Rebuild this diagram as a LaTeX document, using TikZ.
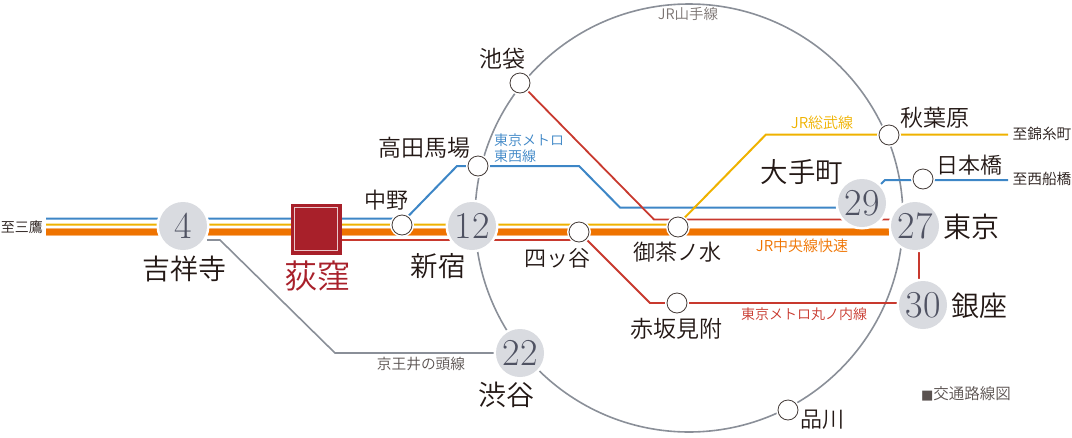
\documentclass[tikz,border=0pt]{standalone}
\usepackage{fontspec}
\newfontfamily\cjk{Noto Sans CJK JP}[UprightFont=* DemiLight]
\definecolor{lblue}{HTML}{3D86C6}
\definecolor{lyellow}{HTML}{EFB200}
\definecolor{lorange}{HTML}{EF7300}
\definecolor{lred}{HTML}{C8392E}
\definecolor{lgrey}{HTML}{8A8F98}
\definecolor{bigfill}{HTML}{D9DBE0}
\definecolor{numcol}{HTML}{4F5262}
\definecolor{ink}{HTML}{231815}
\definecolor{ogi}{HTML}{A8202A}
\tikzset{
  x=1pt,y=-1pt,
  halo/.style={circle,fill=white,draw=none,minimum size=53pt,inner sep=0pt},
  bigst/.style={circle,fill=bigfill,draw=none,minimum size=48pt,inner sep=0pt,text=numcol,font=\fontsize{38}{38}\selectfont},
  smallst/.style={circle,fill=white,draw=ink!85,line width=0.8pt,minimum size=20pt,inner sep=0pt},
  smallhalo/.style={circle,fill=white,draw=none,minimum size=24pt,inner sep=0pt},
  lab/.style={inner sep=0pt,text=ink,font=\cjk\fontsize{#1}{#1}\selectfont},
  lab/.default=23,
  sm/.style={inner sep=0pt,font=\cjk\fontsize{#1}{16}\selectfont},
  sm/.default=14
}
\begin{document}
\begin{tikzpicture}
\useasboundingbox (0,0) rectangle (1072,437);
% ring
\node[inner sep=0pt,minimum size=0pt] (ringc) at (689,218) {};
\draw[lgrey,line width=1.6pt] (ringc) circle[radius=214];
% free ends and bends
\coordinate (bw) at (46,218.5);
\coordinate (yw) at (46,224.5);
\coordinate (ow) at (46,232);
\coordinate (oe) at (889,232);
\coordinate (rs) at (341,240);
\coordinate (b1) at (406,218.5);
\coordinate (b2) at (457,166);
\coordinate (b3) at (579,166);
\coordinate (b4) at (620,207.5);
\coordinate (b5) at (860,207.5);
\coordinate (b6) at (881,184);
\coordinate (b7) at (885,180);
\coordinate (b8) at (1008,180);
\coordinate (y1) at (678,224.5);
\coordinate (y2) at (766,134.5);
\coordinate (y3) at (1008,134.5);
\coordinate (r1) at (587,240);
\coordinate (r2) at (650,303);
\coordinate (r5) at (905,303);
\coordinate (r3) at (654,219.5);
\coordinate (r4) at (892,219.5);
\coordinate (r6) at (919,240);
\coordinate (r7) at (919,290);
\coordinate (k1) at (207,240);
\coordinate (k2) at (220,240);
\coordinate (k3) at (335,353);
\coordinate (k4) at (510,353);
% station positions
\coordinate (pkichi) at (183,226);
\coordinate (pshinj) at (472,226);
\coordinate (pshibu) at (520,353);
\coordinate (potem) at (862,203);
\coordinate (ptokyo) at (915,226);
\coordinate (pginza) at (923,305);
\coordinate (pnaka) at (402,225);
\coordinate (ptaka) at (478,166);
\coordinate (pyotsu) at (579,232);
\coordinate (pocha) at (678,227);
\coordinate (paki) at (889,135);
\coordinate (pnihon) at (923,179);
\coordinate (pike) at (520,83);
\coordinate (pshina) at (788,410);
\coordinate (paka) at (677,303);
% connectors
\draw[lblue,line width=2pt] (bw) -- (b1) -- (b2) -- (b3) -- (b4) -- (b5);
\draw[lblue,line width=2pt] (b6) -- (b7) -- (b8);
\draw[lyellow,line width=2pt] (yw) -- (y1) -- (y2) -- (y3);
\draw[lorange!55!white,line width=8pt] (ow) -- (oe);
\draw[lorange,line width=6.4pt] (ow) -- (oe);
\draw[lred,line width=1.8pt] (rs) -- (r1) -- (r2) -- (paka) -- (r5);
\draw[lred,line width=1.8pt] (pike) -- (r3) -- (r4);
\draw[lred,line width=1.8pt] (r6) -- (r7);
\draw[lgrey,line width=1.6pt] (k1) -- (k2) -- (k3) -- (k4);
% halos
\foreach \p in {pkichi,pshinj,pshibu,potem,ptokyo,pginza}{\node[halo] at (\p) {};}
\foreach \p in {pnaka,ptaka,pyotsu,pocha,paki,pnihon,pike,pshina,paka}{\node[smallhalo] at (\p) {};}
% big stations
\node[bigst] (kichi) at (pkichi) {4};
\node[bigst] (shinj) at (pshinj) {12};
\node[bigst] (shibu) at (pshibu) {22};
\node[bigst] (otem) at (potem) {29};
\node[bigst] (tokyo) at (ptokyo) {27};
\node[bigst] (ginza) at (pginza) {30};
% small stations
\node[smallst] (naka) at (pnaka) {};
\node[smallst] (taka) at (ptaka) {};
\node[smallst] (yotsu) at (pyotsu) {};
\node[smallst] (ocha) at (pocha) {};
\node[smallst] (aki) at (paki) {};
\node[smallst] (nihon) at (pnihon) {};
\node[smallst] (ike) at (pike) {};
\node[smallst] (shina) at (pshina) {};
\node[smallst] (aka) at (paka) {};
% Ogikubo
\node[draw=ogi,fill=ogi,minimum size=50pt,inner sep=0pt,line width=0pt] (ogi) at (316,229) {};
\node[draw=white!75!ogi,line width=0.9pt,minimum size=42.5pt,inner sep=0pt] (ogiin) at (316,229) {};
% labels
\node[lab=28] (tkichi) at (184,269) {吉祥寺};
\node[lab=33,text=ogi] (togi) at (317,276) {荻窪};
\node[lab=23] (ttaka) at (424,148) {高田馬場};
\node[lab=22] (tnaka) at (386,200) {中野};
\node[lab=27.5] (tshinj) at (438,266) {新宿};
\node[lab=22] (tyotsu) at (557,258) {四ッ谷};
\node[lab=22] (tocha) at (677,252) {御茶ノ水};
\node[lab=27.5] (totem) at (802,172) {大手町};
\node[lab=23] (taki) at (935,118) {秋葉原};
\node[lab=22] (tnihon) at (969,165) {日本橋};
\node[lab=28] (ttokyo) at (971,227) {東京};
\node[lab=28] (tginza) at (979,306) {銀座};
\node[lab=28] (tshibu) at (506,395) {渋谷};
\node[lab=23] (taka) at (676,329) {赤坂見附};
\node[lab=23] (tike) at (502,59) {池袋};
\node[lab=22] (tshina) at (822,420) {品川};
\node[sm=14,text=ink] (tmit) at (22,227) {至三鷹};
\node[sm=14.7,text=ink] (tkin) at (1042,134) {至錦糸町};
\node[sm=14.7,text=ink] (tfun) at (1042,179) {至西船橋};
\node[sm=14,text=lblue,align=left,anchor=west] (ttozai) at (494,148) {東京メトロ\\東西線};
\node[sm=15,text=lyellow] (tsobu) at (822,123) {JR総武線};
\node[sm=15,text=lorange] (tchuo) at (802,246) {JR中央線快速};
\node[sm=14,text=lred] (tmaru) at (804,314) {東京メトロ丸ノ内線};
\node[sm=14.7,text=ink!75] (tkeio) at (421,364) {京王井の頭線};
\node[sm=15.5,text=ink!75] (tzu) at (966,394) {{\fontspec{DejaVu Sans}\fontsize{13}{16}\selectfont ■}交通路線図};
\node[sm=14.5,text=ink!60] (tyama) at (688,14) {JR山手線};
\end{tikzpicture}
\end{document}
